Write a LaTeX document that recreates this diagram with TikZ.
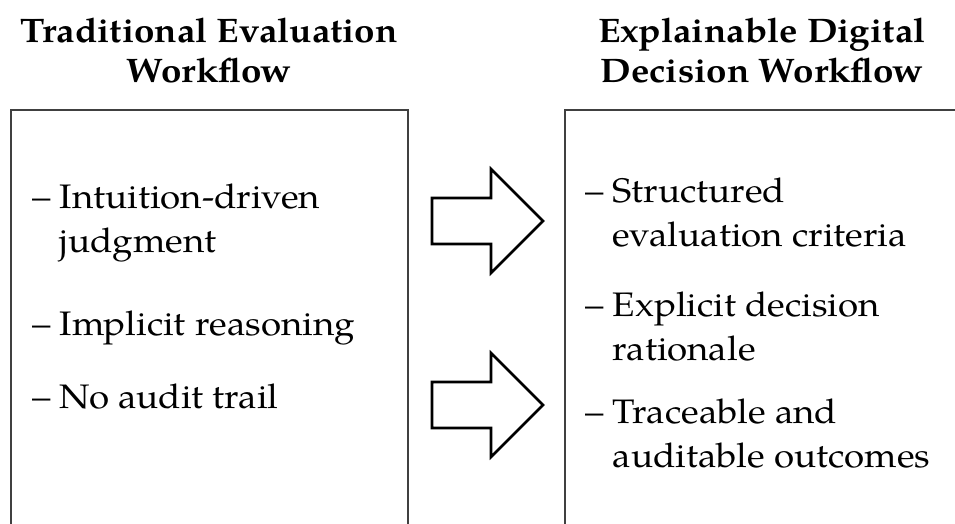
\documentclass[tikz,border=0pt]{standalone}
\usepackage{fontspec}
\setmainfont[FakeStretch=1.08]{TeX Gyre Pagella}
\begin{document}
\begin{tikzpicture}[x=1pt, y=-1pt,
    panel/.style={draw=black!75, line width=1.8pt},
    heading/.style={font=\fontsize{34}{40}\selectfont\bfseries, align=center, anchor=base, inner sep=0pt},
    item/.style={font=\fontsize{34}{44}\selectfont, align=left, anchor=base west, inner sep=0pt},
    blockarrow/.style={draw=black, line width=2.6pt, line join=miter, fill=white}]
    \useasboundingbox (0,0) rectangle (955,523);

    % traditional
    \draw[panel] (11,560) |- (408,110) -- (408,560);
    \node[heading] (tradhead) at (209,82) {Traditional Evaluation\\Workflow};
    \node[item] (intuition) at (32,252) {-- Intuition-driven\\\hphantom{-- }judgment};
    \node[item] (implicit) at (32,335) {-- Implicit reasoning};
    \node[item] (noaudit) at (32,408) {-- No audit trail};

    % arrows
    \foreach \y in {221,405}{
        \draw[blockarrow] (432,\y-23) -- (491,\y-23) -- (491,\y-52) -- (543,\y)
            -- (491,\y+52) -- (491,\y+23) -- (432,\y+23) -- cycle;
    }

    % explainable
    \draw[panel] (565,560) |- (980,110);
    \node[heading] (xaihead) at (762,82) {Explainable Digital\\Decision Workflow};
    \node[item] (structured) at (585,246) {-- Structured\\\hphantom{-- }evaluation criteria};
    \node[item] (explicit) at (585,360) {-- Explicit decision\\\hphantom{-- }rationale};
    \node[item] (traceable) at (585,467) {-- Traceable and\\\hphantom{-- }auditable outcomes};
\end{tikzpicture}
\end{document}
